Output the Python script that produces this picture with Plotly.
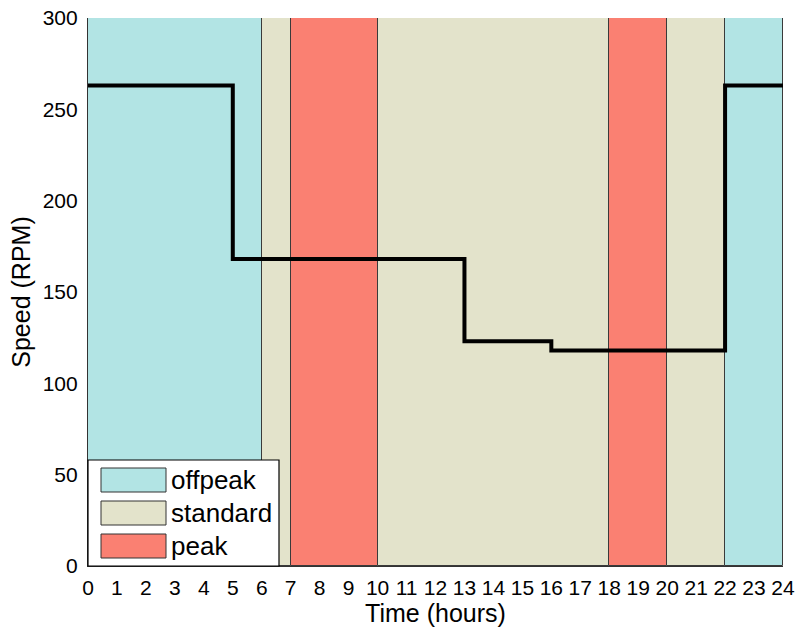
import plotly.graph_objects as go

# ---- data ----
band_starts = [0, 6, 7, 10, 18, 20, 22]
band_ends = [6, 7, 10, 18, 20, 22, 24]
band_types = ["offpeak", "standard", "peak", "standard", "peak", "standard", "offpeak"]
tariff_names = ["offpeak", "standard", "peak"]
tariff_colors = {"offpeak": "#b2e4e4", "standard": "#e3e3cb", "peak": "#fa8072"}

step_times = [0, 5, 13, 16, 22, 24]
step_speeds = [263, 168, 123, 118, 263, 263]

x_ticks = list(range(0, 25))
y_ticks = [0, 50, 100, 150, 200, 250, 300]

W, H = 798, 630
L, R, T, B = 88, 15, 18, 64
pw, ph = W - L - R, H - T - B

fig = go.Figure()

# tariff bands as bars (extend past the top so the top edge is clipped)
fig.add_trace(go.Bar(
    x=[(s + e) / 2 for s, e in zip(band_starts, band_ends)],
    y=[320] * len(band_starts),
    width=[e - s for s, e in zip(band_starts, band_ends)],
    marker=dict(color=[tariff_colors[t] for t in band_types],
                line=dict(color="#3a3a3a", width=1)),
    showlegend=False, hoverinfo="skip",
))

fig.add_trace(go.Scatter(
    x=step_times, y=step_speeds, mode="lines", line_shape="hv",
    line=dict(color="black", width=4), showlegend=False,
))

# manual legend (pixel -> paper)
def px(xp):
    return (xp - L) / pw

def py(yp):
    return (T + ph - yp) / ph

shapes = [dict(type="rect", xref="paper", yref="paper",
               x0=px(88), x1=px(279), y0=py(566), y1=py(460),
               fillcolor="white", line=dict(color="black", width=1.2))]
annotations = []
tops = [468, 501, 534]
for name, top in zip(tariff_names, tops):
    shapes.append(dict(type="rect", xref="paper", yref="paper",
                       x0=px(101), x1=px(166), y0=py(top + 24), y1=py(top),
                       fillcolor=tariff_colors[name],
                       line=dict(color="#333333", width=1)))
    annotations.append(dict(xref="paper", yref="paper", x=px(169), y=py(top + 12),
                            text=name, showarrow=False, xanchor="left", yanchor="middle",
                            font=dict(size=26, color="black")))

fig.update_layout(
    width=W, height=H, margin=dict(l=L, r=R, t=T, b=B, autoexpand=False),
    paper_bgcolor="white", plot_bgcolor="white",
    font=dict(family="Liberation Sans, Arial, sans-serif", color="black"),
    bargap=0, shapes=shapes, annotations=annotations,
    xaxis=dict(range=[0, 24], tickvals=x_ticks, ticks="", showgrid=False, zeroline=False,
               showline=True, linecolor="#333333", linewidth=1.2, automargin=False,
               tickfont=dict(size=21), ticklabelstandoff=3,
               title=dict(text="Time (hours)", font=dict(size=25), standoff=2)),
    yaxis=dict(range=[0, 300], tickvals=y_ticks, ticks="", showgrid=False, zeroline=False,
               showline=True, linecolor="#333333", linewidth=1.2, automargin=False,
               tickfont=dict(size=21), ticklabelstandoff=5,
               title=dict(text="Speed (RPM)", font=dict(size=25), standoff=4)),
)

fig.write_html("out.html")
